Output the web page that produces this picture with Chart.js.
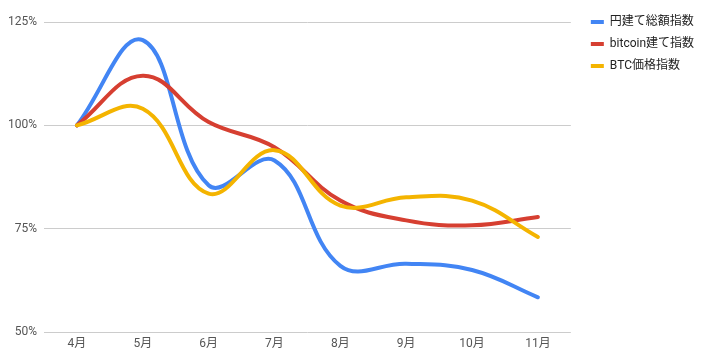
<!DOCTYPE html>
<html>
<head>
<meta charset="utf-8">
<script src="https://cdn.jsdelivr.net/npm/chart.js@4"></script>
<style>
  html, body { margin: 0; padding: 0; background: #ffffff; }
  #c { display: block; }
</style>
</head>
<body>
<canvas id="c" width="704" height="359"></canvas>
<script>
const categories = ['4月', '5月', '6月', '7月', '8月', '9月', '10月', '11月'];
const seriesNames = ['円建て総額指数', 'bitcoin建て指数', 'BTC価格指数'];
const yenIndex = [100, 120.6, 85.5, 91.5, 66, 66.5, 65, 58.4];
const btcDenomIndex = [100, 112, 100.8, 94.7, 81.8, 77, 75.8, 77.8];
const btcPriceIndex = [100, 104, 83.5, 94, 80.6, 82.6, 81.8, 73];
const yTicks = [50, 75, 100, 125];

const colors = ['#4285F4', '#D63F31', '#F4B400'];
const FONT = "Roboto, 'Noto Sans CJK JP', sans-serif";

new Chart(document.getElementById('c'), {
  type: 'line',
  data: {
    labels: categories,
    datasets: [
      { label: seriesNames[0], data: yenIndex, borderColor: colors[0], backgroundColor: colors[0], order: 3 },
      { label: seriesNames[1], data: btcDenomIndex, borderColor: colors[1], backgroundColor: colors[1], order: 2 },
      { label: seriesNames[2], data: btcPriceIndex, borderColor: colors[2], backgroundColor: colors[2], order: 1 }
    ]
  },
  options: {
    responsive: false,
    animation: false,
    devicePixelRatio: 1,
    elements: {
      line: { borderWidth: 4, tension: 0.4, fill: false, borderCapStyle: 'round', borderJoinStyle: 'round' },
      point: { radius: 0, hoverRadius: 0 }
    },
    layout: { padding: { top: 6, right: 7, bottom: 0, left: 0 } },
    plugins: {
      tooltip: { enabled: false },
      title: {
        display: true,
        text: ' ',
        font: { family: FONT, size: 12, lineHeight: 1.2 },
        padding: { top: 0, bottom: 1.6 }
      },
      legend: {
        position: 'right',
        align: 'start',
        labels: {
          font: { family: FONT, size: 12 },
          color: '#222222',
          boxWidth: 13,
          boxHeight: 4,
          padding: 10,
          generateLabels: (chart) => chart.data.datasets.map((ds, i) => ({
            text: ds.label,
            fillStyle: ds.borderColor,
            strokeStyle: ds.borderColor,
            lineWidth: 0,
            fontColor: '#222222',
            hidden: false,
            datasetIndex: i
          }))
        }
      }
    },
    scales: {
      x: {
        offset: true,
        grid: { display: false, drawTicks: false },
        border: { display: false },
        ticks: { font: { family: FONT, size: 12 }, color: '#555555', padding: 5, maxRotation: 0 },
        afterFit: (s) => { s.height = 27; }
      },
      y: {
        min: 50,
        max: 125,
        afterBuildTicks: (s) => { s.ticks = yTicks.map(v => ({ value: v })); },
        grid: { color: '#cccccc', drawTicks: false, lineWidth: 1 },
        border: { display: false },
        ticks: { font: { family: FONT, size: 12 }, color: '#555555', padding: 7, callback: (v) => v + '%' },
        afterFit: (s) => { s.width = 44; }
      },
      y2: {
        type: 'linear',
        position: 'right',
        display: true,
        grid: { display: false, drawTicks: false },
        border: { display: false },
        ticks: { display: false },
        afterFit: (s) => { s.width = 10; }
      }
    }
  }
});
</script>
</body>
</html>
